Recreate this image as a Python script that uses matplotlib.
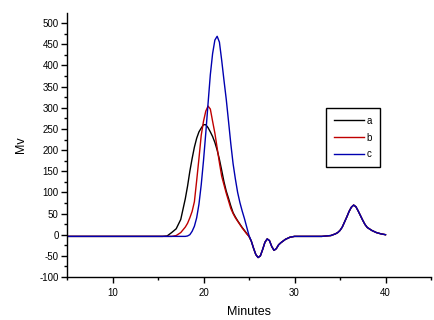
import matplotlib
matplotlib.use("Agg")
import matplotlib.pyplot as plt
from matplotlib.ticker import MultipleLocator

plt.rcParams['font.family'] = ['Liberation Sans', 'DejaVu Sans']
plt.rcParams['axes.unicode_minus'] = False

# minutes, main peak region (shared by a, b, c)
minutes = [5, 15, 15.5, 16, 16.5, 17, 17.5, 18, 18.25, 18.5, 18.75, 19, 19.25,
           19.5, 19.75, 20, 20.25, 20.5, 20.75, 21, 21.25, 21.5, 21.75, 22,
           22.25, 22.5, 22.75, 23, 23.25, 23.5, 23.75, 24, 24.25, 24.5, 24.75, 25]

mv_a = [-4, -4, -4, -3, 5, 14, 36, 85, 115, 150, 180, 207, 228, 243, 252, 260,
        260, 253, 243, 232, 218, 200, 178, 152, 125, 103, 86, 68, 52, 42, 33,
        25, 17, 10, 3, -4]
mv_b = [-4, -4, -4, -4, -4, -2, 5, 18, 27, 40, 55, 78, 128, 180, 235, 268, 292,
        304, 297, 268, 240, 205, 170, 138, 118, 98, 80, 62, 50, 40, 32, 24, 16,
        9, 2, -4]
mv_c = [-4, -4, -4, -4, -4, -4, -4, -4, -3, 0, 8, 20, 40, 72, 118, 175, 240,
        310, 378, 428, 460, 469, 455, 412, 365, 320, 268, 215, 168, 132, 100,
        76, 56, 38, 18, -2]

# common tail after the main peak (all three traces overlap here)
tail_minutes = [25.25, 25.5, 25.75, 26, 26.25, 26.5, 26.75, 27, 27.25, 27.5,
                27.75, 28, 28.25, 28.5, 28.75, 29, 29.5, 30, 31, 33, 34, 34.5,
                34.75, 35, 35.25, 35.5, 35.75, 36, 36.25, 36.5, 36.75, 37,
                37.25, 37.5, 37.75, 38, 38.5, 39, 39.5, 40]
tail_mv = [-15, -32, -47, -54, -50, -35, -18, -10, -14, -28, -37, -33, -24,
           -19, -15, -11, -6, -4, -4, -4, -2, 2, 5, 10, 18, 30, 42, 55, 65, 70,
           66, 56, 45, 34, 24, 17, 10, 5, 2, 0]

labels = ['a', 'b', 'c']
colors = ['black', '#c00000', '#0000b0']

fig = plt.figure(figsize=(4.34, 3.2), dpi=100)
ax = fig.add_axes([67 / 434, 43 / 320, 364 / 434, 264 / 320])

for mv, lab, col in zip([mv_a, mv_b, mv_c], labels, colors):
    ax.plot(minutes + tail_minutes, mv + tail_mv, color=col, lw=1.0, label=lab)

ax.set_xlim(5, 45)
ax.set_ylim(-100, 524)
ax.xaxis.set_major_locator(MultipleLocator(10))
ax.xaxis.set_minor_locator(MultipleLocator(5))
ax.yaxis.set_major_locator(MultipleLocator(50))
ax.yaxis.set_minor_locator(MultipleLocator(25))
ax.set_xticks([10, 20, 30, 40])

for side in ['top', 'right']:
    ax.spines[side].set_visible(False)
for side in ['left', 'bottom']:
    ax.spines[side].set_linewidth(1.0)

ax.tick_params(which='major', direction='out', length=4, width=1,
               labelsize=7, pad=2)
ax.tick_params(axis='x', which='major', pad=4)
ax.tick_params(which='minor', direction='out', length=2, width=1)

ax.set_xlabel('Minutes', fontsize=9, labelpad=6)
ax.set_ylabel('Mv', fontsize=9, labelpad=9)

leg = ax.legend(loc='upper left', bbox_to_anchor=(326 / 434, 1 - 108 / 320),
                bbox_transform=fig.transFigure, borderaxespad=0, fontsize=7,
                handlelength=3.1, handletextpad=0.3, labelspacing=0.7,
                borderpad=0.8, fancybox=False, framealpha=1)
leg.get_frame().set_edgecolor('black')
leg.get_frame().set_linewidth(1.0)

fig.savefig('out.png', dpi=100)
